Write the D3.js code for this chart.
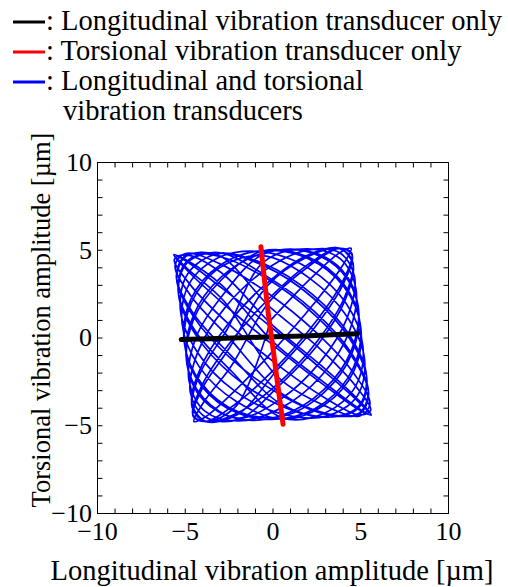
<!DOCTYPE html>
<html lang="en">
<head>
<meta charset="utf-8">
<title>Vibration locus</title>
<style>
body {
  margin: 0;
  background: #fff;
}
svg {
  font-family: "Liberation Serif", "Times New Roman", serif;
}
.axis text {
  fill: #000;
}
.axis path, .axis line {
  stroke: #000;
}
</style>
</head>
<body>
<div id="chart"></div>
<script src="https://cdn.jsdelivr.net/npm/d3@7/dist/d3.min.js"></script>
<script>

var majorTicks = [-10, -5, 0, 5, 10];
var minorTicks = [-10, -9, -8, -7, -6, -5, -4, -3, -2, -1, 0, 1, 2, 3, 4, 5, 6, 7, 8, 9, 10];

var legendLabels = [
  "Longitudinal vibration transducer only",
  "Torsional vibration transducer only",
  "Longitudinal and torsional"
];
var legendSecondLine = "vibration transducers";

// longitudinal only (black)
var longOnly = [[-5.2, -0.12], [-3.6, -0.07], [-1.8, -0.02], [0, 0.04], [1.8, 0.09], [3.4, 0.15], [4.85, 0.22]];

// torsional only (red)
var torsOnly = [[-0.66, 5.17], [-0.45, 3.2], [-0.22, 1.2], [0.0, -0.4], [0.22, -2.1], [0.42, -3.6], [0.6, -4.94]];

// both transducers (blue), traced loop by loop
var both = [
  [-0.10, 0.99], [2.15, 3.34], [3.83, 4.83], [4.48, 5.08], [3.93, 4.00], [2.33, 1.89],
  [0.10, -0.69], [-2.15, -3.04], [-3.83, -4.53], [-4.48, -4.78], [-3.93, -3.70], [-2.33, -1.59],
  [-0.22, 1.99], [2.07, 4.06], [3.80, 5.08], [4.52, 4.79], [4.02, 3.24], [2.45, 0.88],
  [0.22, -1.69], [-2.07, -3.76], [-3.80, -4.78], [-4.52, -4.49], [-4.02, -2.94], [-2.45, -0.58],
  [-0.33, 2.91], [2.00, 4.60], [3.80, 5.10], [4.58, 4.28], [4.13, 2.35], [2.58, -0.17],
  [0.33, -2.61], [-2.00, -4.30], [-3.80, -4.80], [-4.58, -3.98], [-4.13, -2.05], [-2.58, 0.47],
  [-0.50, 4.31], [1.95, 5.05], [3.87, 4.48], [4.76, 2.75], [4.37, 0.32], [2.81, -2.15],
  [0.50, -4.01], [-1.95, -4.75], [-3.87, -4.18], [-4.76, -2.45], [-4.37, -0.02], [-2.81, 2.45],
  [-0.55, 4.73], [1.96, 4.94], [3.95, 3.86], [4.88, 1.80], [4.50, -0.72], [2.91, -2.99],
  [0.55, -4.43], [-1.96, -4.64], [-3.95, -3.56], [-4.88, -1.50], [-4.50, 1.02], [-2.91, 3.29],
  [-0.57, 4.93], [2.00, 4.60], [4.04, 3.07], [5.00, 0.77], [4.61, -1.71], [3.00, -3.68],
  [0.57, -4.63], [-2.00, -4.30], [-4.04, -2.77], [-5.00, -0.47], [-4.61, 2.01], [-3.00, 3.98],
  [-0.54, 4.66], [2.16, 3.34], [4.27, 1.15], [5.25, -1.29], [4.81, -3.36], [3.09, -4.48],
  [0.54, -4.36], [-2.16, -3.04], [-4.27, -0.85], [-5.25, 1.59], [-4.81, 3.66], [-3.09, 4.78],
  [-0.49, 4.20], [2.26, 2.47], [4.40, 0.11], [5.36, -2.23], [4.88, -3.94], [3.10, -4.54],
  [0.49, -3.90], [-2.26, -2.17], [-4.40, 0.19], [-5.36, 2.53], [-4.88, 4.24], [-3.10, 4.84],
  [-0.41, 3.54], [2.38, 1.49], [4.52, -0.92], [5.46, -3.04], [4.93, -4.32], [3.08, -4.39],
  [0.41, -3.24], [-2.38, -1.19], [-4.52, 1.22], [-5.46, 3.34], [-4.93, 4.62], [-3.08, 4.69],
  [-0.20, 1.79], [2.63, -0.58], [4.74, -2.77], [5.59, -4.16], [4.94, -4.41], [2.97, -3.43],
  [0.20, -1.49], [-2.63, 0.89], [-4.74, 3.07], [-5.59, 4.46], [-4.94, 4.71], [-2.97, 3.73],
  [-0.08, 0.78], [2.75, -1.58], [4.83, -3.49], [5.62, -4.41], [4.91, -4.11], [2.88, -2.67],
  [0.08, -0.48], [-2.75, 1.88], [-4.83, 3.79], [-5.62, 4.71], [-4.91, 4.41], [-2.88, 2.97],
  [0.05, -0.27], [2.86, -2.50], [4.89, -4.03], [5.62, -4.43], [4.84, -3.61], [2.77, -1.78],
  [-0.05, 0.57], [-2.86, 2.80], [-4.89, 4.33], [-5.62, 4.73], [-4.84, 3.91], [-2.77, 2.08],
  [0.29, -2.25], [3.02, -3.91], [4.95, -4.48], [5.55, -3.81], [4.66, -2.08], [2.53, 0.25],
  [-0.29, 2.55], [-3.02, 4.21], [-4.95, 4.78], [-5.55, 4.11], [-4.66, 2.38], [-2.53, 0.05],
  [0.39, -3.10], [3.07, -4.33], [4.94, -4.37], [5.48, -3.19], [4.55, -1.12], [2.40, 1.29],
  [-0.39, 3.40], [-3.07, 4.63], [-4.94, 4.67], [-5.48, 3.49], [-4.55, 1.42], [-2.40, -0.99],
  [0.47, -3.78], [3.10, -4.53], [4.89, -4.03], [5.38, -2.41], [4.42, -0.10], [2.28, 2.28],
  [-0.47, 4.08], [-3.10, 4.83], [-4.89, 4.33], [-5.38, 2.71], [-4.42, 0.40], [-2.28, -1.98],
  [0.57, -4.58], [3.07, -4.26], [4.74, -2.77], [5.15, -0.49], [4.18, 1.96], [2.08, 3.93],
  [-0.57, 4.88], [-3.07, 4.56], [-4.74, 3.07], [-5.15, 0.79], [-4.18, -1.66], [-2.08, -3.63],
  [0.58, -4.65], [3.01, -3.80], [4.64, -1.90], [5.03, 0.56], [4.06, 2.90], [2.01, 4.51],
  [-0.58, 4.95], [-3.01, 4.10], [-4.64, 2.20], [-5.03, -0.26], [-4.06, -2.60], [-2.01, -4.21],
  [0.56, -4.49], [2.93, -3.14], [4.52, -0.92], [4.90, 1.59], [3.96, 3.72], [1.97, 4.89],
  [-0.56, 4.79], [-2.93, 3.44], [-4.52, 1.22], [-4.90, -1.29], [-3.96, -3.42], [-1.97, -4.59],
  [0.44, -3.53], [2.72, -1.39], [4.27, 1.16], [4.68, 3.44], [3.83, 4.83], [1.96, 4.98],
  [-0.44, 3.83], [-2.72, 1.69], [-4.27, -0.86], [-4.68, -3.14], [-3.83, -4.53], [-1.96, -4.68],
  [0.35, -2.77], [2.60, -0.38], [4.15, 2.16], [4.59, 4.16], [3.80, 5.08], [1.99, 4.69],
  [-0.35, 3.07], [-2.60, 0.68], [-4.15, -1.86], [-4.59, -3.76], [-3.80, -4.78], [-1.99, -4.39],
  [0.24, -1.88], [2.48, 0.67], [4.04, 3.07], [4.53, 4.70], [3.80, 5.10], [2.05, 4.18],
  [-0.24, 2.18], [-2.48, -0.37], [-4.04, -2.77], [-4.53, -4.40], [-3.80, -4.80], [-2.05, -3.88],
  [-0.10, 0.99]
];

var width = 508, height = 587;
var plotLeft = 97, plotRight = 448, plotTop = 162, plotBottom = 513;
var serif = "'Liberation Serif', 'Times New Roman', serif";

var svg = d3.select("#chart").append("svg")
  .attr("width", width)
  .attr("height", height);

var x = d3.scaleLinear().domain([-10, 10]).range([plotLeft, plotRight]);
var y = d3.scaleLinear().domain([-10, 10]).range([plotBottom, plotTop]);

// curves first, frame and ticks on top
var line = d3.line()
  .x(function(d) { return x(d[0]); })
  .y(function(d) { return y(d[1]); });

svg.append("path")
  .datum(both)
  .attr("d", line.curve(d3.curveCatmullRom.alpha(0.5)))
  .attr("fill", "none")
  .attr("stroke", "#0000ff")
  .attr("stroke-width", 1.7);

line.curve(d3.curveLinear);

svg.append("path")
  .datum(longOnly)
  .attr("d", line)
  .attr("fill", "none")
  .attr("stroke", "#000")
  .attr("stroke-width", 5)
  .attr("stroke-linecap", "round");

svg.append("path")
  .datum(torsOnly)
  .attr("d", line)
  .attr("fill", "none")
  .attr("stroke", "#ff0000")
  .attr("stroke-width", 5)
  .attr("stroke-linecap", "round");

// frame
svg.append("rect")
  .attr("x", plotLeft + 0.5).attr("y", plotTop + 0.5)
  .attr("width", plotRight - plotLeft).attr("height", plotBottom - plotTop)
  .attr("fill", "none").attr("stroke", "#000").attr("stroke-width", 1);

// inward minor ticks, all four sides
function tickOnly(g) {
  g.select(".domain").remove();
  g.selectAll("text").remove();
}
svg.append("g").attr("class", "axis").attr("transform", "translate(0," + (plotBottom + 0.5) + ")")
  .call(d3.axisBottom(x).tickValues(minorTicks).tickSize(-5)).call(tickOnly);
svg.append("g").attr("class", "axis").attr("transform", "translate(0," + (plotTop + 0.5) + ")")
  .call(d3.axisTop(x).tickValues(minorTicks).tickSize(-5)).call(tickOnly);
svg.append("g").attr("class", "axis").attr("transform", "translate(" + (plotLeft + 0.5) + ",0)")
  .call(d3.axisLeft(y).tickValues(minorTicks).tickSize(-5)).call(tickOnly);
svg.append("g").attr("class", "axis").attr("transform", "translate(" + (plotRight + 0.5) + ",0)")
  .call(d3.axisRight(y).tickValues(minorTicks).tickSize(-5)).call(tickOnly);

// labelled ticks
var xAxis = svg.append("g").attr("class", "axis").attr("transform", "translate(0," + plotBottom + ")")
  .call(d3.axisBottom(x).tickValues(majorTicks).tickSize(0).tickPadding(9));
xAxis.select(".domain").remove();
xAxis.selectAll("text").style("font-family", serif).style("font-size", "26px");

var yAxis = svg.append("g").attr("class", "axis").attr("transform", "translate(" + plotLeft + ",0)")
  .call(d3.axisLeft(y).tickValues(majorTicks).tickSize(0).tickPadding(5));
yAxis.select(".domain").remove();
yAxis.selectAll("text").style("font-family", serif).style("font-size", "26px");

// axis titles
svg.append("text")
  .attr("x", 272)
  .attr("y", 580)
  .attr("text-anchor", "middle")
  .style("font-size", "28.5px")
  .text("Longitudinal vibration amplitude [\u00b5m]");

svg.append("text")
  .attr("transform", "translate(50," + 320 + ") rotate(-90)")
  .attr("text-anchor", "middle")
  .style("font-size", "26.5px")
  .text("Torsional vibration amplitude [\u00b5m]");

// legend
var legendColors = ["#000", "#ff0000", "#0000ff"];
var legend = svg.append("g");
legendLabels.forEach(function(label, i) {
  var ly = 22 + i * 30;
  legend.append("line")
    .attr("x1", 13).attr("x2", 45)
    .attr("y1", ly).attr("y2", ly)
    .attr("stroke", legendColors[i])
    .attr("stroke-width", 3);
  legend.append("text")
    .attr("x", 46).attr("y", ly + 8)
    .style("font-size", "28.5px")
    .text(": " + label);
});
legend.append("text")
  .attr("x", 63).attr("y", 22 + 3 * 30 + 8)
  .style("font-size", "28.5px")
  .text(legendSecondLine);

</script>
</body>
</html>
